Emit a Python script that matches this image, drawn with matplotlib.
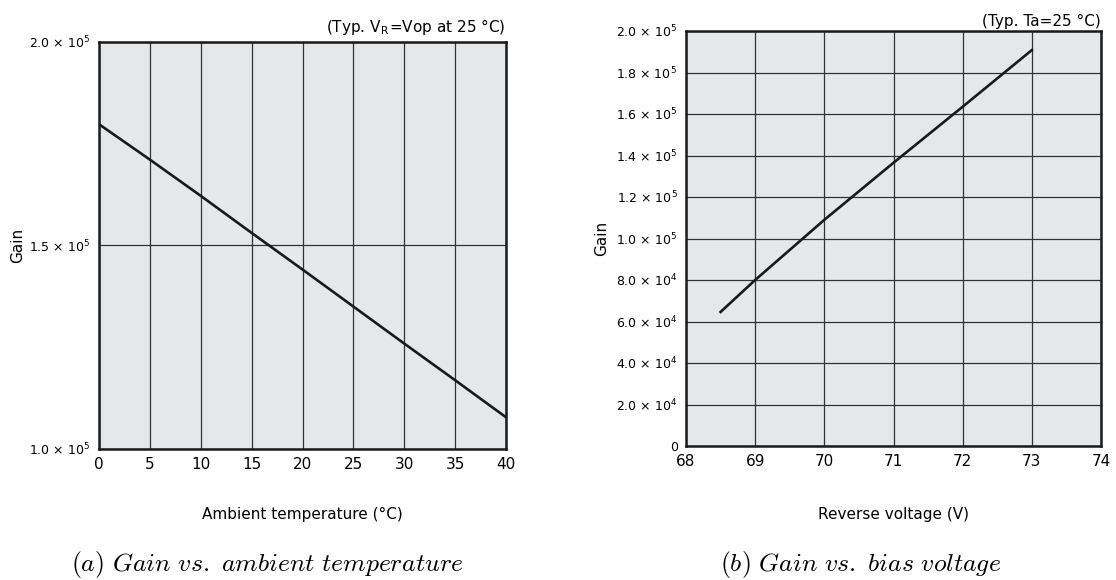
import numpy as np
import matplotlib.pyplot as plt

plt.rcParams['font.family'] = ['DejaVu Sans']
plt.rcParams['mathtext.fontset'] = 'cm'

# (a) gain vs ambient temperature
temp = [0, 5, 10, 15, 20, 25, 30, 35, 40]
gain_temp = [1.798e5, 1.711e5, 1.622e5, 1.531e5, 1.441e5, 1.350e5, 1.259e5, 1.169e5, 1.078e5]
temp_ticks = [0, 5, 10, 15, 20, 25, 30, 35, 40]
gain_a_ticks = [1.0e5, 1.5e5, 2.0e5]
gain_a_labels = ['1.0 × 10$^\\mathregular{5}$', '1.5 × 10$^\\mathregular{5}$', '2.0 × 10$^\\mathregular{5}$']

# (b) gain vs reverse voltage
volt = [68.5, 69, 70, 71, 72, 73]
gain_volt = [6.46e4, 8.0e4, 1.09e5, 1.365e5, 1.635e5, 1.908e5]
volt_ticks = [68, 69, 70, 71, 72, 73, 74]
gain_b_ticks = [0, 2e4, 4e4, 6e4, 8e4, 1e5, 1.2e5, 1.4e5, 1.6e5, 1.8e5, 2e5]
gain_b_labels = ['0'] + ['%s × 10$^\\mathregular{4}$' % s for s in ['2.0', '4.0', '6.0', '8.0']] + \
    ['%s × 10$^\\mathregular{5}$' % s for s in ['1.0', '1.2', '1.4', '1.6', '1.8', '2.0']]

bg = '#e6e7e8'
grid_c = '#333333'

fig = plt.figure(figsize=(11.16, 5.8), dpi=100)
W, H = 1116, 580
ax1 = fig.add_axes([99 / W, 1 - 449 / H, 407 / W, 407 / H])
ax2 = fig.add_axes([686 / W, 1 - 446 / H, 415 / W, 415 / H])

for ax in (ax1, ax2):
    ax.set_facecolor(bg)
    for s in ax.spines.values():
        s.set_linewidth(1.8)
        s.set_color('#1a1a1a')
    ax.grid(True, color=grid_c, linewidth=0.9)
    ax.set_axisbelow(True)
    ax.tick_params(length=0, pad=6)
    ax.tick_params(axis='x', labelsize=11)
    ax.tick_params(axis='y', labelsize=9)

ax1.plot(temp, gain_temp, color='#1a1a1a', linewidth=1.9)
ax1.set_xlim(0, 40)
ax1.set_ylim(1.0e5, 2.0e5)
ax1.set_xticks(temp_ticks)
ax1.set_yticks(gain_a_ticks)
ax1.set_yticklabels(gain_a_labels)
ax1.set_xlabel('Ambient temperature (°C)', fontsize=11, labelpad=25)
ax1.set_ylabel('Gain', fontsize=11, labelpad=3)
ax1.text(1.0, 1.012, r'(Typ. V$_\mathregular{R}$=Vop at 25 °C)', transform=ax1.transAxes,
         ha='right', va='bottom', fontsize=11)

ax2.plot(volt, gain_volt, color='#1a1a1a', linewidth=1.9)
ax2.set_xlim(68, 74)
ax2.set_ylim(0, 2.0e5)
ax2.set_xticks(volt_ticks)
ax2.set_yticks(gain_b_ticks)
ax2.set_yticklabels(gain_b_labels)
ax2.set_xlabel('Reverse voltage (V)', fontsize=11, labelpad=27)
ax2.set_ylabel('Gain', fontsize=11, labelpad=5)
ax2.text(1.0, 1.005, '(Typ. Ta=25 °C)', transform=ax2.transAxes,
         ha='right', va='bottom', fontsize=11)

fig.text(267 / W, 1 - 564 / H, r'$\mathit{(a)\ Gain\ vs.\ ambient\ temperature}$',
         ha='center', va='center', fontsize=18.5)
fig.text(861 / W, 1 - 564 / H, r'$\mathit{(b)\ Gain\ vs.\ bias\ voltage}$',
         ha='center', va='center', fontsize=18.5)

fig.savefig('out.png', dpi=100)
